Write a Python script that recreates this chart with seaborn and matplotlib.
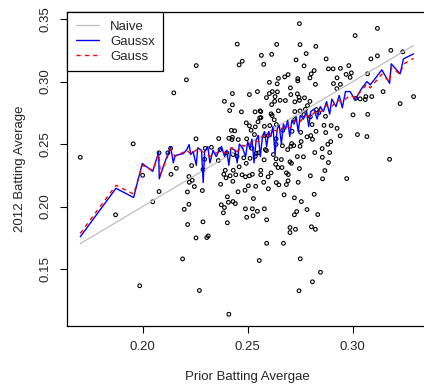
import matplotlib
matplotlib.use("Agg")
import matplotlib.pyplot as plt
import seaborn as sns

# scatter: prior average vs 2012 average
prior_avg = [
    0.245, 0.2255, 0.2474, 0.2459, 0.2208, 0.2148, 0.2427, 0.2508, 0.2546, 0.2389,
    0.2427, 0.2414, 0.2470, 0.2535, 0.2559, 0.2493, 0.2508, 0.2549, 0.2422, 0.2438,
    0.2516, 0.2427, 0.2410, 0.2362, 0.2254, 0.2327, 0.2298, 0.2133, 0.2368, 0.2360,
    0.2295, 0.2233, 0.2160, 0.2287, 0.2393, 0.2431, 0.2459, 0.2493, 0.2511, 0.2540,
    0.2520,
    0.1955, 0.1703, 0.2078, 0.2120,
    0.2000, 0.2078, 0.2048, 0.1871, 0.1986,
    0.2135, 0.2220, 0.2236, 0.2222, 0.2246, 0.2213, 0.2284, 0.2220, 0.2198, 0.2287,
    0.2214, 0.2254, 0.2305, 0.2312, 0.2190, 0.2270, 0.2410, 0.2555, 0.2386, 0.2416,
    0.2443, 0.2473, 0.2489, 0.2508, 0.2522, 0.2397, 0.2429, 0.2371, 0.2503, 0.2538,
    0.2487, 0.2454, 0.2527, 0.2403, 0.2408, 0.2430, 0.2441, 0.2374, 0.2389, 0.2489,
    0.2522, 0.2546, 0.2384, 0.2495, 0.2525, 0.2403,
    0.2562, 0.2611, 0.2562, 0.2597, 0.2576, 0.2636, 0.2648, 0.2684, 0.2693, 0.2692,
    0.2684, 0.2740, 0.2746, 0.2798, 0.2856, 0.2867, 0.2971, 0.2598, 0.2673, 0.2722,
    0.2755, 0.2816, 0.2579, 0.2733, 0.2722, 0.2782, 0.2833, 0.2590, 0.2701, 0.2727,
    0.2701, 0.2803, 0.2822, 0.2590, 0.2670, 0.2750, 0.2846, 0.2808, 0.2744,
    0.2746, 0.2638, 0.2749, 0.2824, 0.2565, 0.2614, 0.2778, 0.2576, 0.2730, 0.2873,
    0.2768, 0.2884, 0.2906, 0.2941, 0.2981, 0.2816, 0.2802, 0.2692, 0.2676, 0.2646,
    0.2603, 0.2640, 0.2738, 0.2738, 0.2796, 0.2822, 0.2908, 0.2925, 0.2941, 0.2968,
    0.2924, 0.2703, 0.2603, 0.2617, 0.2641, 0.2630, 0.2589, 0.2705, 0.2736, 0.2744,
    0.2770, 0.2654, 0.2628, 0.2679, 0.2724, 0.2746, 0.2784, 0.2796, 0.2614, 0.2562,
    0.2646, 0.2611, 0.2724, 0.2749, 0.2774, 0.2563, 0.2626, 0.2605, 0.2863, 0.2897,
    0.2871, 0.2925, 0.2825, 0.2711, 0.2752, 0.2800, 0.2940, 0.2808, 0.2754, 0.2709,
    0.2580, 0.2635, 0.2881, 0.2895, 0.2854, 0.2890, 0.2665, 0.2589, 0.2690, 0.2736,
    0.2765, 0.2578, 0.2635, 0.2660, 0.2819, 0.2855, 0.2633, 0.2663, 0.2644, 0.2701,
    0.2708, 0.2884,
    0.3117, 0.3011, 0.3181, 0.3238, 0.3086, 0.3117, 0.2993, 0.2987, 0.3070, 0.3144,
    0.3289, 0.3225, 0.3090, 0.3062, 0.3059, 0.3035, 0.3014, 0.3001, 0.3071, 0.3022,
    0.3067, 0.3175,
    0.2425, 0.2455, 0.2495, 0.2536, 0.2532, 0.2557, 0.2616, 0.2579, 0.2636, 0.2597,
    0.2635, 0.2705, 0.2719, 0.2749, 0.2782, 0.2806, 0.2838, 0.2827, 0.2667, 0.2724,
    0.2767, 0.2870, 0.2798, 0.2430, 0.2449, 0.2481, 0.2400, 0.2552, 0.2584, 0.2536,
    0.2622,
]
avg_2012 = [
    0.330, 0.3128, 0.3163, 0.3134, 0.3014, 0.2910, 0.2904, 0.2896, 0.2920, 0.2842,
    0.2814, 0.2768, 0.2758, 0.2758, 0.2766, 0.2670, 0.2646, 0.2678, 0.2610, 0.2606,
    0.2610, 0.2554, 0.2546, 0.2544, 0.2542, 0.2474, 0.2466, 0.2466, 0.2456, 0.2368,
    0.2378, 0.2328, 0.2306, 0.2296, 0.2290, 0.2290, 0.2318, 0.2346, 0.2386, 0.2426,
    0.2466,
    0.2502, 0.2394, 0.2430, 0.2430,
    0.2250, 0.2120, 0.2038, 0.1934, 0.1366,
    0.2258, 0.2240, 0.2210, 0.2194, 0.2160, 0.2117, 0.2128, 0.2018, 0.1978, 0.1878,
    0.1856, 0.1749, 0.1752, 0.1765, 0.1581, 0.1328, 0.1138, 0.1568, 0.2258, 0.2246,
    0.2254, 0.2254, 0.2238, 0.2246, 0.2258, 0.2230, 0.2202, 0.2178, 0.2166, 0.2162,
    0.2130, 0.2118, 0.2064, 0.2078, 0.2034, 0.2040, 0.2024, 0.2014, 0.1992, 0.1982,
    0.1982, 0.1962, 0.1950, 0.1914, 0.1926, 0.1870,
    0.2290, 0.2270, 0.2254, 0.2238, 0.2194, 0.2192, 0.2174, 0.2270, 0.2256, 0.2206,
    0.2176, 0.2194, 0.2304, 0.2246, 0.2222, 0.2288, 0.2224, 0.2142, 0.2094, 0.2070,
    0.2040, 0.2098, 0.1982, 0.1960, 0.1934, 0.1976, 0.1936, 0.1894, 0.1832, 0.1818,
    0.1792, 0.1838, 0.1818, 0.1706, 0.1706, 0.1582, 0.1474, 0.1398, 0.1326,
    0.3464, 0.3298, 0.3296, 0.3282, 0.3210, 0.3218, 0.3224, 0.3138, 0.3174, 0.3182,
    0.3126, 0.3102, 0.3102, 0.3106, 0.3128, 0.3088, 0.3062, 0.3056, 0.3038, 0.3026,
    0.2994, 0.2982, 0.3024, 0.3006, 0.3030, 0.2978, 0.2984, 0.3030, 0.2978, 0.3058,
    0.2944, 0.2950, 0.2904, 0.2920, 0.2918, 0.2880, 0.2872, 0.2896, 0.2902, 0.2874,
    0.2870, 0.2850, 0.2842, 0.2848, 0.2838, 0.2850, 0.2808, 0.2842, 0.2816, 0.2760,
    0.2766, 0.2742, 0.2760, 0.2766, 0.2778, 0.2712, 0.2694, 0.2648, 0.2650, 0.2648,
    0.2592, 0.2626, 0.2602, 0.2602, 0.2594, 0.2568, 0.2566, 0.2538, 0.2520, 0.2504,
    0.2568, 0.2498, 0.2498, 0.2520, 0.2464, 0.2432, 0.2486, 0.2448, 0.2456, 0.2400,
    0.2398, 0.2374, 0.2382, 0.2376, 0.2432, 0.2394, 0.2338, 0.2312, 0.2312, 0.2358,
    0.2346, 0.2352,
    0.3426, 0.3368, 0.3250, 0.3238, 0.3182, 0.3206, 0.3070, 0.3034, 0.3062, 0.2920,
    0.2880, 0.2824, 0.2880, 0.2880, 0.2856, 0.2862, 0.2866, 0.2734, 0.2738, 0.2576,
    0.2560, 0.2378,
    0.2536, 0.2536, 0.2542, 0.2638, 0.2576, 0.2710, 0.2728, 0.2642, 0.2656, 0.2568,
    0.2542, 0.2482, 0.2488, 0.2482, 0.2558, 0.2656, 0.2750, 0.2776, 0.2610, 0.2696,
    0.2736, 0.2722, 0.2718, 0.2416, 0.2402, 0.2390, 0.2430, 0.2430, 0.2456, 0.2402,
    0.2416,
]

# Naive estimate = prior average
naive_x = [0.1703, 0.3289]
naive_y = [0.1703, 0.3289]

# Gaussx estimate (blue)
gaussx_x = [
    0.1703, 0.1873, 0.1957, 0.1998, 0.2048, 0.2076, 0.2079, 0.2100, 0.2133, 0.2146,
    0.2154, 0.2194, 0.2210, 0.2221, 0.2229, 0.2240, 0.2255, 0.2262, 0.2280, 0.2288,
    0.2295, 0.2310, 0.2320, 0.2335, 0.2350, 0.2362, 0.2375, 0.2390, 0.2400, 0.2410,
    0.2420, 0.2440, 0.2450, 0.2460, 0.2475, 0.2490, 0.2500, 0.2510, 0.2520, 0.2530,
    0.2540, 0.2550, 0.2560, 0.2570, 0.2580, 0.2590, 0.2600, 0.2610, 0.2620, 0.2630,
    0.2640, 0.2650, 0.2660, 0.2670, 0.2680, 0.2690, 0.2700, 0.2710, 0.2720, 0.2730,
    0.2740, 0.2750, 0.2765, 0.2780, 0.2790, 0.2800, 0.2815, 0.2830, 0.2845, 0.2860,
    0.2875, 0.2890, 0.2900, 0.2920, 0.2935, 0.2950, 0.2965, 0.2987, 0.3011, 0.3040,
    0.3067, 0.3083, 0.3138, 0.3175, 0.3183, 0.3225, 0.3241, 0.3289,
]
gaussx_y = [
    0.1758, 0.2146, 0.2072, 0.2344, 0.2282, 0.2434, 0.2222, 0.2330, 0.2478, 0.2350,
    0.2408, 0.2424, 0.2456, 0.2496, 0.2416, 0.2440, 0.2330, 0.2470, 0.2450, 0.2192,
    0.2440, 0.2480, 0.2350, 0.2450, 0.2400, 0.2440, 0.2480, 0.2400, 0.2450, 0.2330,
    0.2470, 0.2450, 0.2350, 0.2500, 0.2470, 0.2400, 0.2520, 0.2460, 0.2540, 0.2350,
    0.2530, 0.2570, 0.2400, 0.2560, 0.2600, 0.2480, 0.2600, 0.2560, 0.2640, 0.2420,
    0.2620, 0.2650, 0.2500, 0.2660, 0.2620, 0.2690, 0.2560, 0.2690, 0.2660, 0.2720,
    0.2600, 0.2730, 0.2700, 0.2760, 0.2640, 0.2760, 0.2780, 0.2700, 0.2800, 0.2760,
    0.2840, 0.2740, 0.2860, 0.2800, 0.2890, 0.2790, 0.2920, 0.2920, 0.2854, 0.2940,
    0.3000, 0.2974, 0.3094, 0.2986, 0.3142, 0.3062, 0.3182, 0.3222,
]

# Gauss estimate (red dashed)
gauss_x = [
    0.1703, 0.1873, 0.1957, 0.1998, 0.2048, 0.2076, 0.2085, 0.2133, 0.2154, 0.2210,
    0.2229, 0.2262, 0.2295, 0.2320, 0.2362, 0.2400, 0.2425, 0.2450, 0.2475, 0.2500,
    0.2525, 0.2550, 0.2575, 0.2600, 0.2625, 0.2650, 0.2675, 0.2700, 0.2725, 0.2750,
    0.2775, 0.2800, 0.2825, 0.2850, 0.2875, 0.2900, 0.2925, 0.2950, 0.2987, 0.3011,
    0.3067, 0.3083, 0.3138, 0.3175, 0.3183, 0.3225, 0.3241, 0.3289,
]
gauss_y = [
    0.1785, 0.2170, 0.2100, 0.2330, 0.2290, 0.2420, 0.2260, 0.2460, 0.2400, 0.2450,
    0.2420, 0.2460, 0.2430, 0.2400, 0.2440, 0.2430, 0.2470, 0.2440, 0.2490, 0.2480,
    0.2530, 0.2520, 0.2570, 0.2560, 0.2610, 0.2600, 0.2650, 0.2630, 0.2690, 0.2680,
    0.2730, 0.2720, 0.2770, 0.2760, 0.2810, 0.2800, 0.2850, 0.2840, 0.2890, 0.2870,
    0.2980, 0.2950, 0.3060, 0.3000, 0.3110, 0.3060, 0.3140, 0.3186,
]

sns.set_style("ticks")
plt.rcParams['font.family'] = ['Liberation Sans', 'DejaVu Sans']

fig = plt.figure(figsize=(4.24, 3.87), dpi=100)
ax = fig.add_axes([67 / 424, 61 / 387, 360 / 424, 314 / 387])

sns.scatterplot(x=prior_avg, y=avg_2012, ax=ax, marker='o', s=7,
                facecolor='none', edgecolor='black', linewidth=0.8, zorder=2)
sns.lineplot(x=naive_x, y=naive_y, ax=ax, color='#BEBEBE', lw=0.9,
             sort=False, estimator=None, label='Naive', zorder=3)
sns.lineplot(x=gaussx_x, y=gaussx_y, ax=ax, color='blue', lw=1.0,
             sort=False, estimator=None, label='Gaussx', zorder=4)
sns.lineplot(x=gauss_x, y=gauss_y, ax=ax, color='red', lw=1.0, ls=(0, (3, 3)),
             sort=False, estimator=None, label='Gauss', zorder=5)

ax.set_xlim(0.1640, 0.3353)
ax.set_ylim(0.1044, 0.3557)
ax.set_xticks([0.20, 0.25, 0.30])
ax.set_xticklabels(['0.20', '0.25', '0.30'])
ax.set_yticks([0.15, 0.20, 0.25, 0.30, 0.35])
ax.set_yticklabels(['0.15', '0.20', '0.25', '0.30', '0.35'], rotation=90, va='center')
ax.tick_params(axis='both', length=5, width=0.8, color='black', labelsize=9.5, pad=6)
ax.set_xlabel('Prior Batting Avergae', fontsize=9.5, labelpad=13)
ax.set_ylabel('2012 Batting Average', fontsize=9.5, labelpad=10)
for s in ax.spines.values():
    s.set_visible(True)
    s.set_linewidth(0.9)
    s.set_color('black')

leg = ax.legend(loc='upper left', fontsize=9.5, fancybox=False, framealpha=1,
                edgecolor='black', borderaxespad=0, handlelength=1.8,
                handletextpad=0.8, labelspacing=0.2, borderpad=0.65)
leg.get_frame().set_linewidth(0.9)

fig.savefig('out.png', dpi=100)
